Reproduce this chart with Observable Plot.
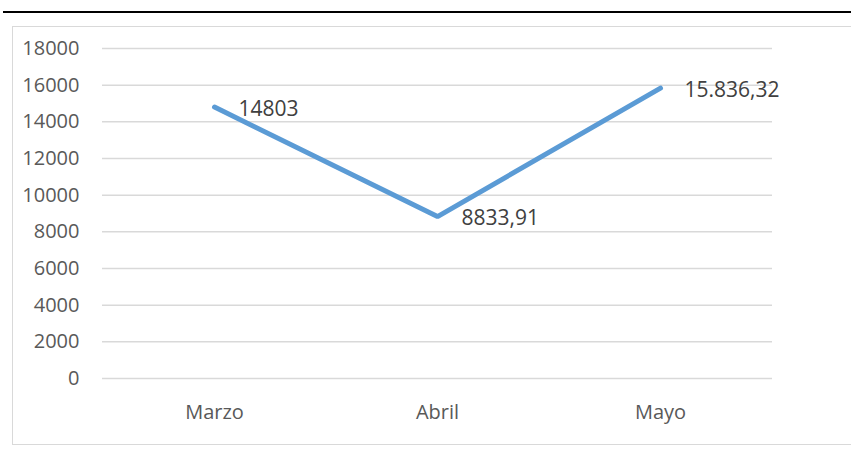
<!DOCTYPE html>
<html>
<head>
<meta charset="utf-8">
<script src="https://cdn.jsdelivr.net/npm/d3@7"></script>
<script src="https://cdn.jsdelivr.net/npm/@observablehq/plot@0.6"></script>
<style>
  html, body { margin: 0; padding: 0; background: #fff; }
  #wrap { position: relative; width: 851px; height: 467px; overflow: hidden; }
  #topline { position: absolute; left: 3px; top: 11px; width: 860px; height: 2px; background: #000; }
  #border { position: absolute; left: 12px; top: 26px; width: 860px; height: 419px; border: 1.5px solid #d9d9d9; box-sizing: border-box; }
  #chart { position: absolute; left: 0; top: 0; }
</style>
</head>
<body>
<div id="wrap">
  <div id="topline"></div>
  <div id="border"></div>
  <div id="chart"></div>
</div>
<script>
const months = ["Marzo", "Abril", "Mayo"];
const values = [14803, 8833.91, 15836.32];
const valueLabels = ["14803", "8833,91", "15.836,32"];
const yTicks = [0, 2000, 4000, 6000, 8000, 10000, 12000, 14000, 16000, 18000];

const data = months.map((m, i) => ({month: m, value: values[i], label: valueLabels[i]}));

const chart = Plot.plot({
  width: 851,
  height: 467,
  marginLeft: 102,
  marginRight: 79,
  marginTop: 48,
  marginBottom: 89,
  style: {fontFamily: "'Open Sans', sans-serif", fontSize: "20px", background: "transparent", overflow: "visible"},
  x: {type: "point", domain: months, padding: 0.5, label: null},
  y: {domain: [0, 18000], label: null},
  marks: [
    Plot.ruleY(yTicks, {stroke: "#d9d9d9", strokeWidth: 1.5}),
    Plot.axisY({ticks: yTicks, tickSize: 0, tickPadding: 23, tickFormat: d => String(d), fill: "#595959", fontSize: 20, label: null}),
    Plot.axisX({tickSize: 0, tickPadding: 26, fill: "#595959", fontSize: 20, label: null}),
    Plot.line(data, {x: "month", y: "value", stroke: "#5b9bd5", strokeWidth: 5, strokeLinecap: "round", strokeLinejoin: "miter"}),
    Plot.text(data, {x: "month", y: "value", text: "label", dx: 24, dy: 2, textAnchor: "start", lineAnchor: "middle", fill: "#404040", fontSize: 21})
  ]
});
document.getElementById("chart").appendChild(chart);
</script>
</body>
</html>
